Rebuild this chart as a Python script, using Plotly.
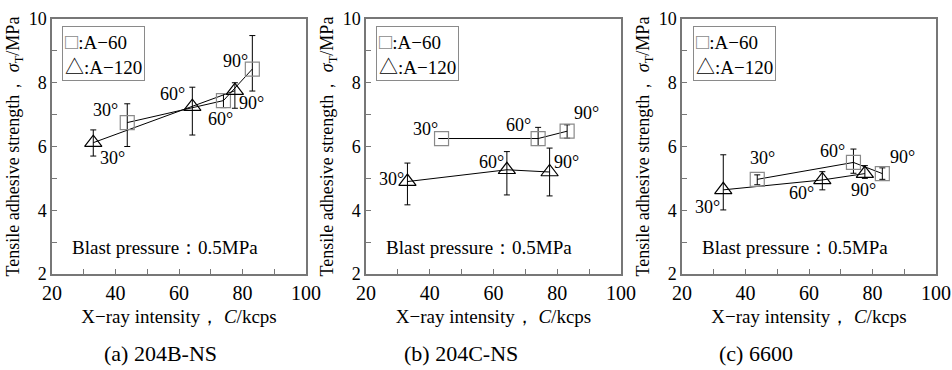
import plotly.graph_objects as go

# ---------------- data ----------------
angles = ["30°", "60°", "90°"]
x_a60 = [43.7, 74.0, 83.1]     # X-ray intensity (kcps), A-60 grit
x_a120 = [33.0, 64.2, 77.6]    # X-ray intensity (kcps), A-120 grit

# (a) 204B-NS
a_a60_y = [6.75, 7.44, 8.43]
a_a60_ep = [0.59, 0.22, 1.05]
a_a60_em = [0.75, 0.22, 0.69]
a_a120_y = [6.12, 7.25, 7.75]
a_a120_ep = [0.40, 0.61, 0.25]
a_a120_em = [0.42, 0.89, 0.55]

# (b) 204C-NS
b_a60_y = [6.25, 6.25, 6.48]
b_a60_ep = [None, 0.35, 0.20]
b_a60_em = [None, 0.22, 0.22]
b_a120_y = [4.90, 5.27, 5.20]
b_a120_ep = [0.58, 0.57, 0.75]
b_a120_em = [0.73, 0.79, 0.75]

# (c) 6600
c_a60_y = [4.97, 5.50, 5.15]
c_a60_ep = [0.14, 0.42, 0.18]
c_a60_em = [0.17, 0.34, 0.18]
c_a120_y = [4.64, 4.95, 5.15]
c_a120_ep = [1.10, 0.26, 0.25]
c_a120_em = [0.63, 0.31, 0.15]

panel_titles = ["(a) 204B-NS", "(b) 204C-NS", "(c) 6600"]
series_names = [":A\u221260", ":A\u2212120"]
series_symbols = ["\u25a1", "\u25b3"]
x_ticks = [20, 40, 60, 80, 100]
y_ticks = [2, 4, 6, 8, 10]

# ---------------- style ----------------
W, H = 952, 370
FONT = "Liberation Serif, Times New Roman, serif"
GRAY = "#8a8a8a"
FRAME = "#777777"
x_domains = [[52 / W, 306 / W], [366 / W, 621 / W], [682 / W, 936 / W]]
y_domain = [96 / H, 351 / H]

# label offsets (dx right, dy down) in px for each panel: [A-60 list, A-120 list]
label_offsets = [
    [[(-22, -13), (-3, 18), (-17, -8)], [(19, 15), (-20, -13), (17, 12)]],
    [[(-16, -10), (-20, -14), (19, -18)], [(-16, -3), (-15, -8), (17, -10)]],
    [[(5, -21), (-21, -11), (20, -17)], [(-16, 17), (-21, 13), (-1, 16)]],
]
subcap_left = [102, 402, 717]
legend_left = [62, 376, 693]

panels = [
    (a_a60_y, a_a60_ep, a_a60_em, a_a120_y, a_a120_ep, a_a120_em),
    (b_a60_y, b_a60_ep, b_a60_em, b_a120_y, b_a120_ep, b_a120_em),
    (c_a60_y, c_a60_ep, c_a60_em, c_a120_y, c_a120_ep, c_a120_em),
]

fig = go.Figure()
annotations = []
layout_upd = {}

legend_text = (
    f"<span style='color:{GRAY};font-size:22px'>{series_symbols[0]}</span>{series_names[0]}<br>"
    f"{series_symbols[1]}{series_names[1]}"
)

for i, (y60, ep60, em60, y120, ep120, em120) in enumerate(panels):
    n = "" if i == 0 else str(i + 1)
    xa, ya = "x" + n, "y" + n
    # connecting lines
    fig.add_trace(go.Scatter(x=x_a60, y=y60, mode="lines", xaxis=xa, yaxis=ya,
                             line=dict(color="black", width=1), showlegend=False,
                             hoverinfo="skip"))
    fig.add_trace(go.Scatter(x=x_a120, y=y120, mode="lines", xaxis=xa, yaxis=ya,
                             line=dict(color="black", width=1), showlegend=False,
                             hoverinfo="skip"))
    # markers with error bars
    fig.add_trace(go.Scatter(
        x=x_a60, y=y60, mode="markers", xaxis=xa, yaxis=ya, name=series_names[0],
        showlegend=False,
        marker=dict(symbol="square-open", size=14, color=GRAY, line=dict(width=1.2, color=GRAY)),
        error_y=dict(type="data", array=ep60, arrayminus=em60, symmetric=False,
                     color="black", thickness=1, width=3)))
    fig.add_trace(go.Scatter(
        x=x_a120, y=y120, mode="markers", xaxis=xa, yaxis=ya, name=series_names[1],
        showlegend=False,
        marker=dict(symbol="triangle-up-open", size=15, color="black", line=dict(width=1.2, color="black")),
        error_y=dict(type="data", array=ep120, arrayminus=em120, symmetric=False,
                     color="black", thickness=1, width=3)))

    # angle labels
    for xs, ys, offs in ((x_a60, y60, label_offsets[i][0]), (x_a120, y120, label_offsets[i][1])):
        for k in range(3):
            dx, dy = offs[k]
            annotations.append(dict(x=xs[k], y=ys[k], xref=xa, yref=ya, text=angles[k],
                                    showarrow=False, xshift=dx, yshift=-dy,
                                    font=dict(family=FONT, size=18, color="black")))
    # legend box (symbols + names)
    annotations.append(dict(x=legend_left[i] / W, y=1 - 26 / H, xref="paper", yref="paper",
                            text=legend_text, showarrow=False, xanchor="left", yanchor="top",
                            align="left", bordercolor=GRAY, borderwidth=1, borderpad=2,
                            bgcolor="white",
                            font=dict(family=FONT + ", Noto Sans CJK SC", size=19, color="black")))
    # blast pressure text
    annotations.append(dict(x=0.07, y=0.102, xref=xa + " domain", yref=ya + " domain",
                            text="Blast pressure\uff1a0.5MPa", showarrow=False,
                            xanchor="left", yanchor="middle",
                            font=dict(family=FONT, size=19, color="black")))
    # sub caption
    annotations.append(dict(x=subcap_left[i] / W, y=1 - 353 / H, xref="paper", yref="paper",
                            text=panel_titles[i], showarrow=False, xanchor="left",
                            yanchor="middle", font=dict(family=FONT, size=22, color="black")))

    layout_upd["xaxis" + n] = dict(
        domain=x_domains[i], range=[20, 100], anchor=ya, tickvals=x_ticks, automargin=False,
        ticklabeloverflow="allow",
        ticks="inside", ticklen=5, tickcolor=FRAME, showgrid=False, zeroline=False,
        showline=True, linecolor=FRAME, linewidth=1.5, mirror=True,
        minor=dict(ticks="inside", dtick=10, ticklen=5, tickcolor=FRAME, showgrid=False),
        tickfont=dict(family=FONT, size=20, color="black"),
        title=dict(text="X\u2212ray intensity\uff0c <i>C</i>/kcps", standoff=7,
                   font=dict(family=FONT, size=19, color="black")))
    layout_upd["yaxis" + n] = dict(
        domain=y_domain, range=[2, 10], anchor=xa, tickvals=y_ticks, automargin=False,
        ticklabeloverflow="allow",
        ticks="inside", ticklen=5, tickcolor=FRAME, showgrid=False, zeroline=False,
        showline=True, linecolor=FRAME, linewidth=1.5, mirror=True,
        minor=dict(ticks="inside", dtick=1, ticklen=5, tickcolor=FRAME, showgrid=False),
        tickfont=dict(family=FONT, size=18, color="black"),
        title=dict(text="Tensile adhesive strength\uff0c <i>\u03c3</i><sub>T</sub>/MPa", standoff=4,
                   font=dict(family=FONT, size=18, color="black")))

fig.update_layout(width=W, height=H,
                  margin=dict(l=0, r=0, t=0, b=0, pad=0, autoexpand=False),
                  paper_bgcolor="white", plot_bgcolor="white", showlegend=False,
                  font=dict(family=FONT, color="black"),
                  annotations=annotations, **layout_upd)

fig.write_html("out.html")
